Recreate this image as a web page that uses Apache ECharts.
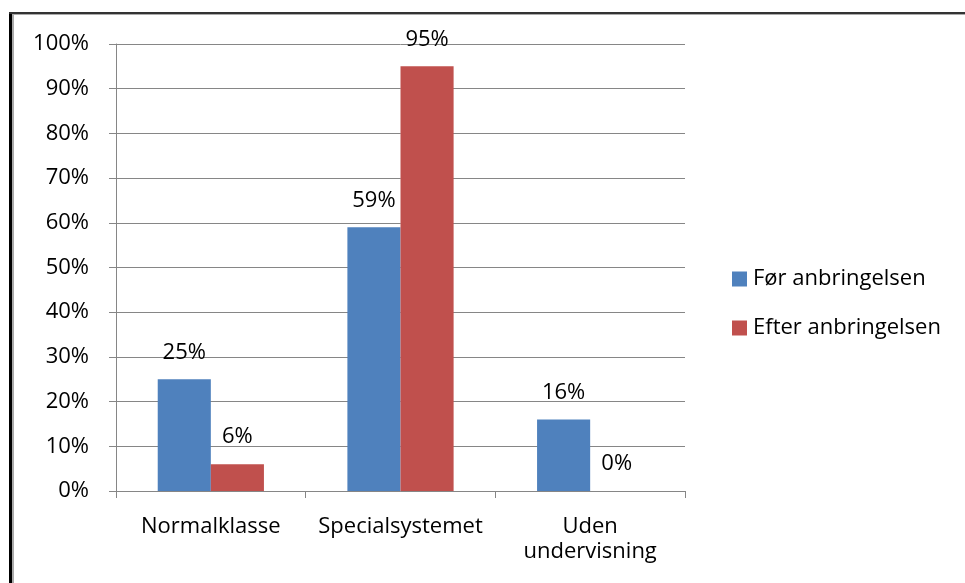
<!DOCTYPE html>
<html><head><meta charset="utf-8">
<script src="https://cdn.jsdelivr.net/npm/echarts@6/dist/echarts.min.js"></script>
<style>html,body{margin:0;padding:0;background:#fff}#c{width:965px;height:583px}</style>
</head><body><div id="c"></div>
<script>
const categories = ['Normalklasse', 'Specialsystemet', 'Uden\nundervisning'];
const seriesNames = ['Før anbringelsen', 'Efter anbringelsen'];
const forValues = [25, 59, 16];
const efterValues = [6, 95, 0];
const yTicks = [0, 10, 20, 30, 40, 50, 60, 70, 80, 90, 100];

const font = '"Open Sans", sans-serif';
const fs = 22;
const chart = echarts.init(document.getElementById('c'), null, {renderer: 'canvas'});
const lbl = {show: true, position: 'top', distance: 16, formatter: p => p.value + '%', color: '#000', fontSize: fs, fontFamily: font};
chart.setOption({
  backgroundColor: '#fff',
  animation: false,
  graphic: [
    {type: 'rect', shape: {x: 9, y: 12, width: 3, height: 600}, style: {fill: '#000'}},
    {type: 'rect', shape: {x: 12, y: 14, width: 2, height: 600}, style: {fill: '#aaa'}},
    {type: 'rect', shape: {x: 9, y: 12, width: 960, height: 2}, style: {fill: '#333'}},
    {type: 'rect', shape: {x: 12, y: 14, width: 960, height: 1}, style: {fill: '#aaa'}}
  ],
  grid: {left: 116, right: 280, top: 44, bottom: 92},
  legend: {
    orient: 'vertical', left: 727, top: 263, itemGap: 27, itemWidth: 15, itemHeight: 15,
    icon: 'rect', textStyle: {fontSize: fs, fontFamily: font, color: '#000', lineHeight: 22, padding: [0, 0, 0, 1]},
    data: seriesNames
  },
  xAxis: {
    type: 'category', data: categories,
    axisLine: {lineStyle: {color: '#868686', width: 1}},
    axisTick: {show: true, length: 7, lineStyle: {color: '#868686'}},
    axisLabel: {interval: 0, hideOverlap: false, fontSize: fs, fontFamily: font, color: '#000', margin: 23, lineHeight: 25}
  },
  yAxis: {
    type: 'value', min: 0, max: 100, interval: 10,
    axisLine: {show: true, lineStyle: {color: '#868686'}},
    axisTick: {show: true, length: 7, lineStyle: {color: '#868686'}},
    splitLine: {lineStyle: {color: '#868686'}},
    axisLabel: {fontSize: fs, fontFamily: font, color: '#000', margin: 27,
      formatter: v => yTicks.includes(v) ? v + '%' : ''}
  },
  series: [
    {name: seriesNames[0], type: 'bar', data: forValues, barGap: '0%', barCategoryGap: '44%',
     itemStyle: {color: '#4F81BD'}, label: lbl},
    {name: seriesNames[1], type: 'bar', data: efterValues, barGap: '0%', barCategoryGap: '44%',
     itemStyle: {color: '#C0504D'}, label: lbl}
  ]
});
</script></body></html>
